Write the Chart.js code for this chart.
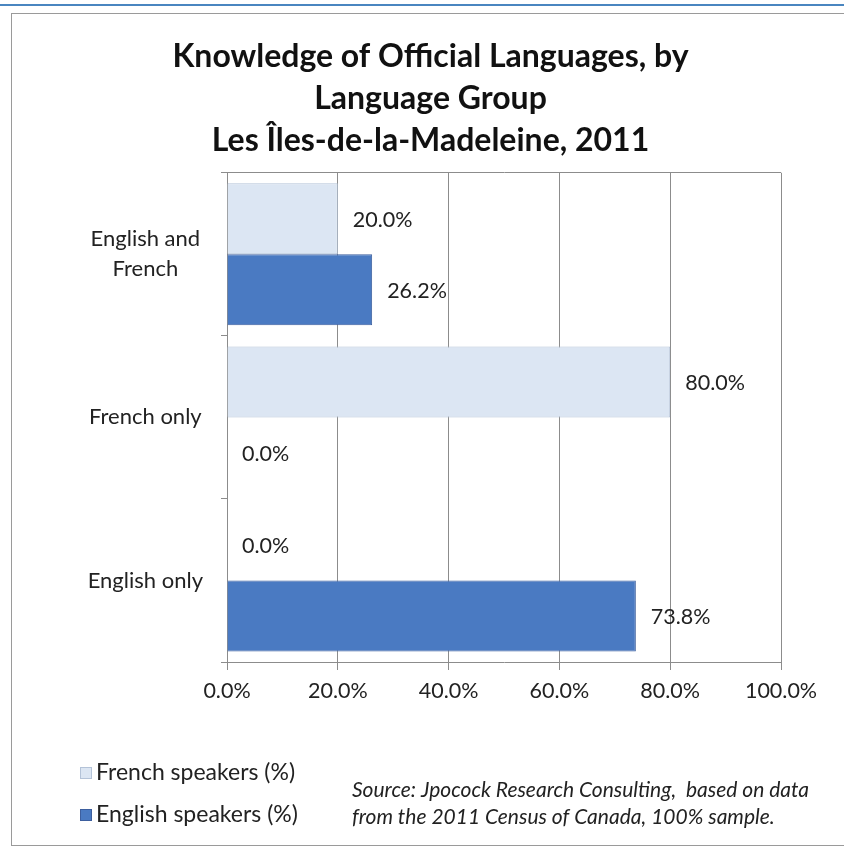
<!DOCTYPE html>
<html>
<head>
<meta charset="utf-8">
<script src="https://cdn.jsdelivr.net/npm/chart.js@4.4.0/dist/chart.umd.min.js"></script>
<style>
    html, body { margin: 0; padding: 0; background: #fff; overflow: hidden; }
    #wrap { position: relative; width: 844px; height: 853px; overflow: hidden; }
    #topline { position: absolute; left: 0; top: 4px; width: 844px; height: 2px; background: #4a86c0; }
    #frame { position: absolute; left: 11px; top: 13px; width: 850px; height: 833px; border: 1px solid #9a9a9a; box-sizing: border-box; }
    #myChart { position: absolute; left: 0; top: 0; }
</style>
</head>
<body>
<div id="wrap">
    <div id="topline"></div>
    <div id="frame"></div>
    <canvas id="myChart" width="844" height="853"></canvas>
</div>
<script>
const categories = [["English and", "French"], "French only", "English only"];
const frenchSpeakers = [20.0, 80.0, 0.0];
const englishSpeakers = [26.2, 0.0, 73.8];
const seriesLabels = ["French speakers (%)", "English speakers (%)"];
const titleLines = ["Knowledge of Official Languages, by", "Language Group", "Les Îles-de-la-Madeleine, 2011"];
const sourceLines = ["Source: Jpocock Research Consulting,  based on data", "from the 2011 Census of Canada, 100% sample."];

const FONT = "Lato";

// value labels at the end of each bar + legend + source note
const extrasPlugin = {
    id: "extras",
    afterDatasetsDraw(chart) {
        const ctx = chart.ctx;
        ctx.save();
        ctx.font = `21.5px ${FONT}`;
        ctx.fillStyle = "#222";
        ctx.textAlign = "left";
        ctx.textBaseline = "middle";
        chart.data.datasets.forEach((ds, i) => {
            chart.getDatasetMeta(i).data.forEach((bar, j) => {
                ctx.fillText(ds.data[j].toFixed(1) + "%", bar.x + 15, bar.y + 1);
            });
        });
        ctx.restore();
    },
    afterDraw(chart) {
        const ctx = chart.ctx;
        ctx.save();
        // legend
        ctx.font = `23px ${FONT}`;
        ctx.textBaseline = "middle";
        ctx.textAlign = "left";
        const legendY = [773, 815];
        chart.data.datasets.forEach((ds, i) => {
            const y = legendY[i];
            ctx.fillStyle = ds.backgroundColor;
            ctx.fillRect(80, y - 6, 12, 12);
            ctx.strokeStyle = ds.borderColor;
            ctx.lineWidth = 1;
            ctx.strokeRect(80.5, y - 5.5, 11, 11);
            ctx.fillStyle = "#222";
            ctx.fillText(ds.label, 96, y);
        });
        // source note
        ctx.font = `italic 21px ${FONT}`;
        ctx.fillStyle = "#222";
        ctx.fillText(sourceLines[0], 352, 790);
        ctx.fillText(sourceLines[1], 352, 817);
        ctx.restore();
    }
};

const myChart = new Chart(document.getElementById("myChart"), {
    type: "bar",
    data: {
        labels: categories,
        datasets: [{
            label: seriesLabels[0],
            data: frenchSpeakers,
            backgroundColor: "#dce6f3",
            borderColor: "#b4c3d8",
            borderWidth: 1
        }, {
            label: seriesLabels[1],
            data: englishSpeakers,
            backgroundColor: "#4a7ac2",
            borderColor: "#3d5f9e",
            borderWidth: 1
        }]
    },
    options: {
        indexAxis: "y",
        responsive: false,
        animation: false,
        categoryPercentage: 0.87,
        barPercentage: 1.0,
        layout: {
            padding: { left: 80, right: 63, top: 36, bottom: 141 }
        },
        scales: {
            x: {
                min: 0,
                max: 100,
                ticks: {
                    stepSize: 20,
                    color: "#222",
                    padding: 8,
                    font: { family: FONT, size: 21.5 },
                    callback: (v) => v.toFixed(1) + "%"
                },
                grid: {
                    color: "#8c8c8c",
                    tickLength: 8
                },
                border: { display: true, color: "#8c8c8c" },
                afterFit: (axis) => { axis.height = 50; }
            },
            y: {
                ticks: {
                    color: "#222",
                    crossAlign: "center",
                    padding: 18,
                    font: { family: FONT, size: 22, lineHeight: 1.36 }
                },
                grid: {
                    color: (c) => c.index === 0 ? "#8c8c8c" : "transparent",
                    tickColor: "#8c8c8c",
                    tickLength: 6
                },
                border: { display: true, color: "#8c8c8c" },
                afterFit: (axis) => { axis.width = 147; }
            }
        },
        plugins: {
            legend: { display: false },
            tooltip: { enabled: false },
            title: {
                display: true,
                text: titleLines,
                color: "#111",
                font: { family: FONT, size: 32, weight: "bold", lineHeight: 1.31 },
                padding: { top: 0, bottom: 11 }
            }
        }
    },
    plugins: [extrasPlugin]
});
</script>
</body>
</html>
